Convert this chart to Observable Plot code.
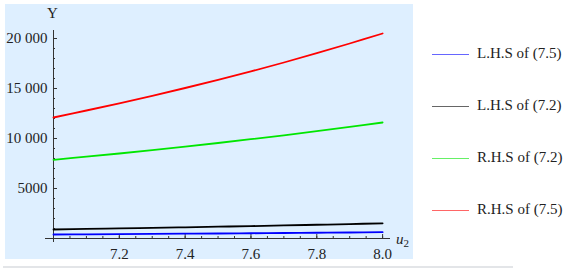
<!DOCTYPE html>
<html>
<head>
<meta charset="utf-8">
<script src="https://cdn.jsdelivr.net/npm/d3@7"></script>
<script src="https://cdn.jsdelivr.net/npm/@observablehq/plot@0.6"></script>
<style>
  body { margin: 0; background: #fff; }
  #wrap { position: relative; width: 580px; height: 271px; overflow: hidden; font-family: "Liberation Serif", serif; color: #222; }
  #panel { position: absolute; left: 5px; top: 4px; width: 408px; height: 255px; background: #deefff; }
  #rule { position: absolute; left: 3px; top: 266px; width: 510px; height: 2px; background: #e3e5e8; }
  #chart { position: absolute; left: 0; top: 0; }
  #chart svg text { font-family: "Liberation Serif", serif !important; }
  .lab { position: absolute; font-size: 15px; line-height: 1; }
  .leg { position: absolute; left: 432px; font-size: 15px; line-height: 1; }
  .leg span.sw { position: absolute; left: 0; width: 37px; height: 1px; top: 0; }
  .leg span.tx { position: absolute; left: 45px; top: -8px; white-space: nowrap; }
</style>
</head>
<body>
<div id="wrap">
  <div id="panel"></div>
  <div id="rule"></div>
  <div id="chart"></div>
  <div class="lab" style="left:47px; top:6px;">Y</div>
  <div class="lab" style="left:396px; top:232px;"><i>u</i><sub style="font-size:11px; vertical-align:-3px;">2</sub></div>
  <div id="legend"></div>
</div>
<script>
const u = [7.0, 7.1, 7.2, 7.3, 7.4, 7.5, 7.6, 7.7, 7.8, 7.9, 8.0];
const lhs75 = [400, 420, 440, 460, 480, 500, 525, 550, 575, 600, 630];
const lhs72 = [900, 955, 1010, 1065, 1120, 1180, 1240, 1305, 1375, 1445, 1520];
const rhs72 = [7870, 8180, 8500, 8840, 9190, 9550, 9930, 10320, 10730, 11160, 11600];
const rhs75 = [12100, 12800, 13520, 14270, 15050, 15860, 16710, 17600, 18530, 19500, 20500];

const seriesNames = ["L.H.S of (7.5)", "L.H.S of (7.2)", "R.H.S of (7.2)", "R.H.S of (7.5)"];
const seriesColors = ["#0000ff", "#000000", "#00e600", "#ff0000"];
const seriesValues = [lhs75, lhs72, rhs72, rhs75];

const xMajor = [7.2, 7.4, 7.6, 7.8, 8.0];
const xMinor = d3.range(0, 21).map(i => 7 + i * 0.05);
const yMajor = [5000, 10000, 15000, 20000];
const yMinor = d3.range(1, 21).map(i => i * 1000);

const rows = [];
seriesValues.forEach((vals, s) => vals.forEach((v, i) => rows.push({u: u[i], y: v, s: seriesNames[s]})));

const fmtY = d => d >= 10000 ? d3.format(",")(d).replace(",", " ") : String(d);
const serif = "'Liberation Serif', serif";

const chart = Plot.plot({
  width: 580,
  height: 271,
  marginLeft: 53,
  marginRight: 190,
  marginTop: 30,
  marginBottom: 33,
  style: {background: "transparent", fontFamily: serif, fontSize: "15px", color: "#222"},
  x: {domain: [7, 8.024]},
  y: {domain: [0, 20800]},
  color: {domain: seriesNames, range: seriesColors},
  marks: [
    Plot.ruleY([0], {stroke: "#333", strokeWidth: 1, insetLeft: -8}),
    Plot.ruleX([7], {stroke: "#333", strokeWidth: 1, insetBottom: -4}),
    Plot.axisX(xMinor, {tickSize: -2, tickFormat: () => "", stroke: "#333", label: null}),
    Plot.axisX(xMajor, {tickSize: -4, tickFormat: () => "", stroke: "#333", label: null}),
    Plot.axisX(xMajor, {tickSize: 0, tickPadding: 10, tickFormat: d => d.toFixed(1), label: null, fill: "#222", fontFamily: serif, fontSize: 15}),
    Plot.axisY(yMinor, {tickSize: -2, tickFormat: () => "", stroke: "#333", label: null}),
    Plot.axisY(yMajor, {tickSize: -4, tickFormat: () => "", stroke: "#333", label: null}),
    Plot.axisY(yMajor, {tickSize: 0, tickPadding: 6, tickFormat: fmtY, label: null, fill: "#222", fontFamily: serif, fontSize: 15}),
    Plot.line(rows, {x: "u", y: "y", z: "s", stroke: "s", strokeWidth: 1.8, curve: "catmull-rom"})
  ]
});
document.getElementById("chart").appendChild(chart);

const legend = document.getElementById("legend");
const legendTops = [54, 106, 158, 210];
seriesNames.forEach((name, i) => {
  const row = document.createElement("div");
  row.className = "leg";
  row.style.top = legendTops[i] + "px";
  row.innerHTML = `<span class="sw" style="background:${seriesColors[i]}; opacity:0.6"></span><span class="tx">${name}</span>`;
  legend.appendChild(row);
});
</script>
</body>
</html>
